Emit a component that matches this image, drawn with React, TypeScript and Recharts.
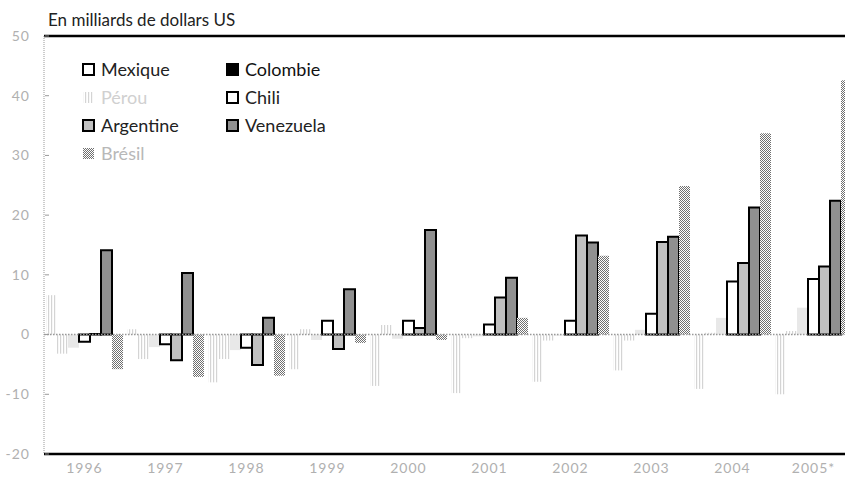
import React from 'react';
import { BarChart, Bar, XAxis, YAxis, ReferenceLine } from 'recharts';

const years = ['1996', '1997', '1998', '1999', '2000', '2001', '2002', '2003', '2004', '2005*'];

const mexique = [6.6, 0.9, -8.0, -5.8, -8.6, -9.8, -7.9, -6.0, -9.1, -10.0];
const colombie = [-3.2, -4.1, -4.1, 0.9, 1.6, -0.6, -1.0, -1.0, 0.3, 0.6];
const perou = [-2.2, -2.1, -2.6, -0.9, -0.7, -0.3, -0.2, 0.8, 2.8, 4.5];
const chili = [-1.2, -1.6, -2.2, 2.3, 2.3, 1.7, 2.3, 3.5, 8.9, 9.3];
const argentine = [0.1, -4.3, -5.1, -2.4, 1.1, 6.2, 16.6, 15.5, 12.0, 11.4];
const venezuela = [14.1, 10.3, 2.8, 7.6, 17.5, 9.5, 15.4, 16.4, 21.3, 22.4];
const bresil = [-5.8, -7.1, -6.9, -1.4, -0.9, 2.8, 13.2, 24.9, 33.7, 42.6];

const yTicks = [-20, -10, 0, 10, 20, 30, 40, 50];

const data = years.map((year, i) => ({
  year,
  Mexique: mexique[i],
  Colombie: colombie[i],
  Perou: perou[i],
  Chili: chili[i],
  Argentine: argentine[i],
  Venezuela: venezuela[i],
  Bresil: bresil[i],
}));

const FONT = 'Lato, "Open Sans", sans-serif';

const legendItems = [
  { name: 'Mexique', box: { fill: '#fff', stroke: '#000' }, color: '#222' },
  { name: 'Colombie', box: { fill: '#000', stroke: '#000' }, color: '#111' },
  { name: 'Pérou', box: { fill: 'url(#hatch)', stroke: 'none' }, color: '#d0d0d0' },
  { name: 'Chili', box: { fill: '#fff', stroke: '#000' }, color: '#222' },
  { name: 'Argentine', box: { fill: '#c0c0c0', stroke: '#000' }, color: '#222' },
  { name: 'Venezuela', box: { fill: '#909090', stroke: '#000' }, color: '#222' },
  { name: 'Brésil', box: { fill: 'url(#checker)', stroke: 'none' }, color: '#b8b8b8' },
];

const ChartLegend = () => (
  <div
    style={{
      position: 'absolute',
      left: 82,
      top: 58,
      display: 'grid',
      gridTemplateColumns: '144px 144px',
      rowGap: 6,
      fontFamily: FONT,
      fontSize: 18,
    }}
  >
    {legendItems.map((it) => (
      <div key={it.name} style={{ display: 'flex', alignItems: 'center', height: 22, color: it.color }}>
        <svg width={13} height={13} style={{ marginRight: 6 }}>
          <rect x={1} y={1} width={11} height={11} fill={it.box.fill} stroke={it.box.stroke} strokeWidth={2} />
        </svg>
        {it.name}
      </div>
    ))}
  </div>
);

const YTick = (props: any) => {
  const { y, payload } = props;
  return (
    <g>
      <line x1={45} x2={49} y1={y} y2={y} stroke="#999" strokeWidth={1} />
      <text x={30} y={y} dy="0.35em" textAnchor="end" fill="#b0b0b0" fontSize={14} fontFamily={FONT} letterSpacing={1}>
        {payload.value}
      </text>
    </g>
  );
};

export default function App() {
  return (
    <div style={{ position: 'absolute', left: 0, top: 0, width: 845, height: 483, overflow: 'hidden', background: '#fff' }}>
      <svg width={0} height={0} style={{ position: 'absolute' }}>
        <defs>
          <pattern id="hatch" width={3} height={4} patternUnits="userSpaceOnUse">
            <rect x={0} y={0} width={1.2} height={4} fill="#d4d4d4" />
          </pattern>
          <pattern id="checker" width={2} height={2} patternUnits="userSpaceOnUse">
            <rect x={0} y={0} width={2} height={2} fill="#fff" />
            <rect x={0} y={0} width={1} height={1} fill="#707070" />
            <rect x={1} y={1} width={1} height={1} fill="#707070" />
          </pattern>
        </defs>
      </svg>
      <div style={{ position: 'absolute', left: 48, top: 9, fontFamily: FONT, fontSize: 17, color: '#222' }}>
        En milliards de dollars US
      </div>
      <BarChart
        width={870}
        height={483}
        data={data}
        margin={{ top: 36, right: 16, bottom: 0, left: 0 }}
        barCategoryGap={2}
        barGap={0}
      >
        <XAxis
          dataKey="year"
          height={29}
          tickLine={false}
          axisLine={{ stroke: '#000', strokeWidth: 2.5 }}
          tick={{ fill: '#b0b0b0', fontSize: 14, fontFamily: FONT, letterSpacing: 1 }}
          tickMargin={3}
        />
        <YAxis
          width={44}
          domain={[-20, 50]}
          ticks={yTicks}
          interval={0}
          allowDataOverflow
          axisLine={{ stroke: '#999', strokeDasharray: '1 1' }}
          tickLine={false}
          tick={<YTick />}
        />
        <ReferenceLine y={50} stroke="#000" strokeWidth={2.5} />
        <ReferenceLine y={0} stroke="#999" strokeWidth={1.5} strokeDasharray="1.5 1.5" />
        <Bar dataKey="Mexique" fill="url(#hatch)" isAnimationActive={false} />
        <Bar dataKey="Colombie" fill="url(#hatch)" isAnimationActive={false} />
        <Bar dataKey="Perou" fill="#e8e8e8" isAnimationActive={false} />
        <Bar dataKey="Chili" fill="#fff" stroke="#000" strokeWidth={2} isAnimationActive={false} />
        <Bar dataKey="Argentine" fill="#c0c0c0" stroke="#000" strokeWidth={2} isAnimationActive={false} />
        <Bar dataKey="Venezuela" fill="#909090" stroke="#000" strokeWidth={2} isAnimationActive={false} />
        <Bar dataKey="Bresil" fill="url(#checker)" isAnimationActive={false} />
      </BarChart>
      <ChartLegend />
    </div>
  );
}
